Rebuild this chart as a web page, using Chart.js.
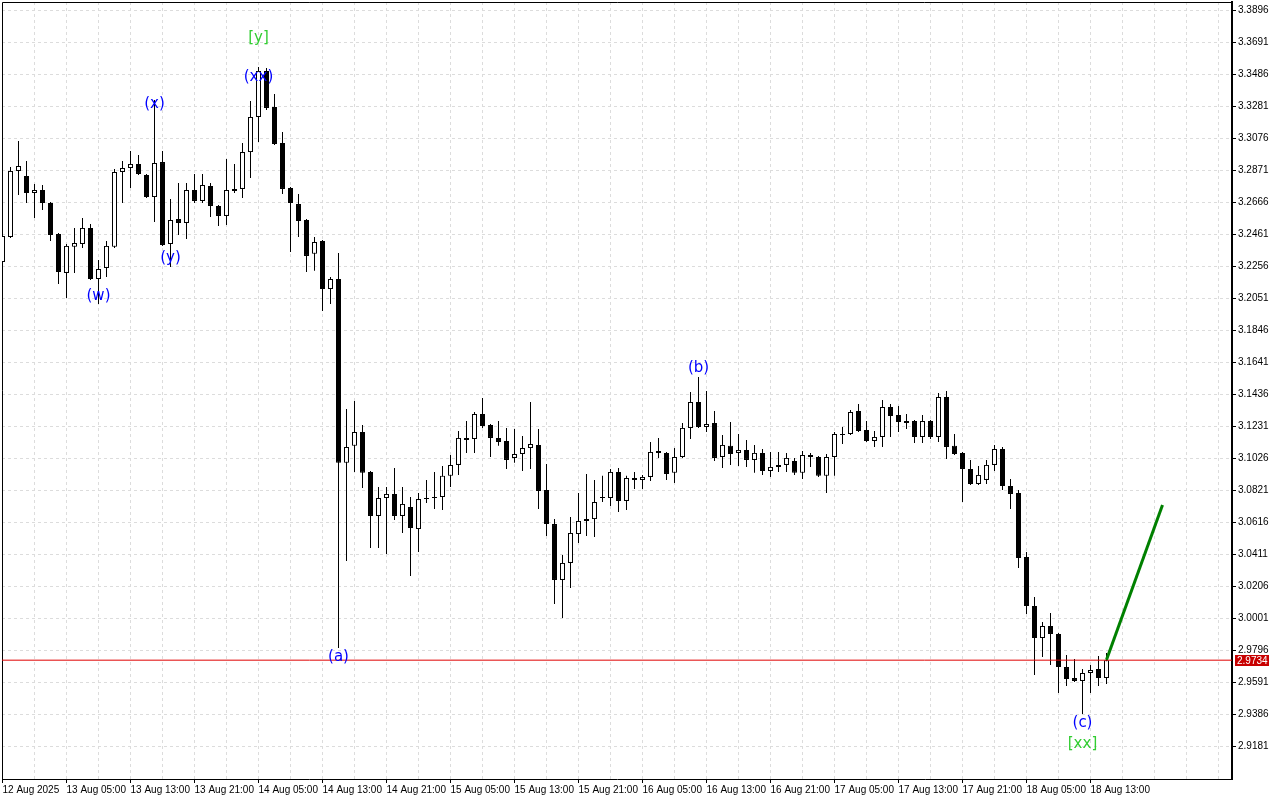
<!DOCTYPE html>
<html>
<head>
<meta charset="utf-8">
<title>H1 candles</title>
<script src="https://cdn.jsdelivr.net/npm/chart.js@4.4.1/dist/chart.umd.min.js"></script>
<style>
  html, body { margin: 0; padding: 0; background: #fff; }
</style>
</head>
<body>
<canvas id="chart" width="1280" height="800"></canvas>
<script>
// one label every 8 hourly bars, bar 0 = 12 Aug 21:00
const xLabels = ["12 Aug 2025", "13 Aug 05:00", "13 Aug 13:00", "13 Aug 21:00", "14 Aug 05:00",
  "14 Aug 13:00", "14 Aug 21:00", "15 Aug 05:00", "15 Aug 13:00", "15 Aug 21:00", "16 Aug 05:00",
  "16 Aug 13:00", "16 Aug 21:00", "17 Aug 05:00", "17 Aug 13:00", "17 Aug 21:00", "18 Aug 05:00",
  "18 Aug 13:00"];

const yTicks = [3.3896, 3.3691, 3.3486, 3.3281, 3.3076, 3.2871, 3.2666, 3.2461, 3.2256, 3.2051,
  3.1846, 3.1641, 3.1436, 3.1231, 3.1026, 3.0821, 3.0616, 3.0411, 3.0206, 3.0001, 2.9796, 2.9591,
  2.9386, 2.9181];

const open = [3.2285, 3.2445, 3.2868, 3.2836, 3.2727, 3.2746, 3.2663, 3.2464, 3.2215, 3.2382,
  3.2400, 3.2503, 3.2176, 3.2247, 3.2382, 3.2862, 3.2887, 3.2913, 3.2842, 3.2701,
  3.2925, 3.2400, 3.2560, 3.2535, 3.2746, 3.2676, 3.2772, 3.2644, 3.2580, 3.2740,
  3.2753, 3.2989, 3.3214, 3.3509, 3.3278, 3.3047, 3.2759, 3.2656, 3.2554, 3.2337,
  3.2420, 3.2112, 3.2176, 3.0998, 3.1107, 3.1196, 3.0940, 3.0658, 3.0773, 3.0799,
  3.0658, 3.0715, 3.0574, 3.0766, 3.0773, 3.0779, 3.0915, 3.0985, 3.1145, 3.1151,
  3.1311, 3.1241, 3.1158, 3.1138, 3.1030, 3.1055, 3.1093, 3.1113, 3.0824, 3.0606,
  3.0248, 3.0357, 3.0542, 3.0626, 3.0638, 3.0773, 3.0773, 3.0940, 3.0754, 3.0901,
  3.0889, 3.0908, 3.1074, 3.1062, 3.0934, 3.1036, 3.1222, 3.1388, 3.1228, 3.1254,
  3.1036, 3.1107, 3.1062, 3.1081, 3.1017, 3.1062, 3.0946, 3.0972, 3.0985, 3.1010,
  3.0934, 3.1049, 3.1036, 3.0915, 3.1036, 3.1177, 3.1183, 3.1330, 3.1209, 3.1138,
  3.1164, 3.1356, 3.1305, 3.1254, 3.1266, 3.1164, 3.1266, 3.1164, 3.1420, 3.1107,
  3.1062, 3.0959, 3.0863, 3.0889, 3.0985, 3.1087, 3.0850, 3.0805, 3.0395, 3.0081,
  2.9876, 2.9953, 2.9902, 2.9690, 2.9620, 2.9601, 2.9652, 2.9678, 2.9620];

const high = [3.2490, 3.2893, 3.3060, 3.2932, 3.2784, 3.2778, 3.2669, 3.2471, 3.2400, 3.2503,
  3.2567, 3.2528, 3.2298, 3.2420, 3.2881, 3.2932, 3.2996, 3.2970, 3.2849, 3.3323,
  3.2996, 3.2688, 3.2791, 3.2791, 3.2849, 3.2849, 3.2791, 3.2650, 3.2944, 3.2913,
  3.3047, 3.3316, 3.3534, 3.3528, 3.3361, 3.3118, 3.2765, 3.2720, 3.2560, 3.2445,
  3.2426, 3.2189, 3.2343, 3.1343, 3.1394, 3.1241, 3.0946, 3.0844, 3.0844, 3.0965,
  3.0844, 3.0779, 3.0805, 3.0889, 3.0940, 3.0978, 3.1049, 3.1202, 3.1266, 3.1324,
  3.1413, 3.1247, 3.1266, 3.1222, 3.1215, 3.1170, 3.1388, 3.1215, 3.0991, 3.0638,
  3.0408, 3.0651, 3.0805, 3.0927, 3.0889, 3.0915, 3.0959, 3.0965, 3.0915, 3.0940,
  3.0921, 3.1132, 3.1158, 3.1068, 3.1093, 3.1254, 3.1452, 3.1548, 3.1459, 3.1330,
  3.1177, 3.1260, 3.1183, 3.1145, 3.1113, 3.1087, 3.1068, 3.1068, 3.1062, 3.1030,
  3.1074, 3.1062, 3.1042, 3.1055, 3.1196, 3.1228, 3.1337, 3.1375, 3.1266, 3.1202,
  3.1401, 3.1375, 3.1362, 3.1311, 3.1273, 3.1305, 3.1273, 3.1446, 3.1459, 3.1183,
  3.1068, 3.1017, 3.0978, 3.1017, 3.1113, 3.1100, 3.0895, 3.0824, 3.0427, 3.0139,
  2.9979, 3.0036, 2.9908, 2.9767, 2.9741, 2.9678, 2.9703, 2.9761, 2.9780];

const low = [3.2266, 3.2439, 3.2714, 3.2663, 3.2567, 3.2618, 3.2420, 3.2144, 3.2055, 3.2215,
  3.2375, 3.2170, 3.2016, 3.2189, 3.2375, 3.2663, 3.2759, 3.2842, 3.2695, 3.2541,
  3.2388, 3.2253, 3.2458, 3.2432, 3.2663, 3.2663, 3.2573, 3.2516, 3.2522, 3.2727,
  3.2695, 3.2823, 3.3054, 3.3259, 3.3034, 3.2720, 3.2349, 3.2445, 3.2221, 3.2228,
  3.1971, 3.2016, 2.9812, 3.0369, 3.0940, 3.0837, 3.0453, 3.0453, 3.0414, 3.0632,
  3.0549, 3.0274, 3.0427, 3.0741, 3.0703, 3.0696, 3.0844, 3.0921, 3.1062, 3.1062,
  3.1222, 3.1036, 3.1107, 3.0959, 3.0998, 3.0946, 3.0959, 3.0703, 3.0529, 3.0094,
  3.0005, 3.0197, 3.0485, 3.0529, 3.0523, 3.0747, 3.0722, 3.0683, 3.0696, 3.0831,
  3.0831, 3.0882, 3.1030, 3.0889, 3.0869, 3.1030, 3.1151, 3.1222, 3.1196, 3.1010,
  3.0965, 3.0985, 3.0978, 3.0972, 3.0934, 3.0921, 3.0908, 3.0940, 3.0940, 3.0921,
  3.0895, 3.0972, 3.0908, 3.0805, 3.0915, 3.1119, 3.1177, 3.1196, 3.1132, 3.1100,
  3.1100, 3.1164, 3.1196, 3.1215, 3.1126, 3.1126, 3.1151, 3.1132, 3.1023, 3.1049,
  3.0747, 3.0856, 3.0856, 3.0863, 3.0946, 3.0824, 3.0703, 3.0325, 3.0030, 2.9639,
  2.9754, 2.9703, 2.9524, 2.9569, 2.9594, 2.9389, 2.9524, 2.9569, 2.9582];

const close = [3.2452, 3.2868, 3.2900, 3.2727, 3.2746, 3.2663, 3.2458, 3.2221, 3.2388, 3.2407,
  3.2503, 3.2176, 3.2240, 3.2388, 3.2862, 3.2887, 3.2913, 3.2849, 3.2701, 3.2919,
  3.2394, 3.2554, 3.2535, 3.2746, 3.2676, 3.2778, 3.2644, 3.2580, 3.2746, 3.2753,
  3.2989, 3.3214, 3.3509, 3.3272, 3.3041, 3.2753, 3.2663, 3.2547, 3.2324, 3.2413,
  3.2112, 3.2176, 3.0998, 3.1100, 3.1196, 3.0934, 3.0658, 3.0773, 3.0799, 3.0658,
  3.0735, 3.0581, 3.0766, 3.0773, 3.0779, 3.0915, 3.0985, 3.1158, 3.1158, 3.1311,
  3.1234, 3.1158, 3.1132, 3.1017, 3.1055, 3.1093, 3.1119, 3.0818, 3.0606, 3.0248,
  3.0357, 3.0549, 3.0626, 3.0638, 3.0747, 3.0779, 3.0940, 3.0754, 3.0901, 3.0889,
  3.0908, 3.1068, 3.1062, 3.0927, 3.1036, 3.1222, 3.1388, 3.1228, 3.1247, 3.1030,
  3.1113, 3.1055, 3.1081, 3.1017, 3.1062, 3.0946, 3.0972, 3.0985, 3.1030, 3.0934,
  3.1049, 3.1036, 3.0915, 3.1036, 3.1183, 3.1183, 3.1324, 3.1202, 3.1138, 3.1164,
  3.1356, 3.1298, 3.1260, 3.1266, 3.1164, 3.1266, 3.1164, 3.1420, 3.1100, 3.1055,
  3.0959, 3.0863, 3.0921, 3.0985, 3.1087, 3.0850, 3.0799, 3.0388, 3.0081, 2.9876,
  2.9953, 2.9902, 2.9690, 2.9613, 2.9601, 2.9652, 2.9671, 2.9620, 2.9734];

const currentPrice = 2.9734;

// projected move
const forecastIdx = [138, 145];
const forecastPrice = [2.9737, 3.0728];

// wave marks
const waveText = ["(w)", "(x)", "(y)", "(xx)", "[y]", "(a)", "(b)", "(c)", "[xx]"];
const waveIdx = [12, 19, 21, 32, 32, 42, 87, 135, 135];
const wavePrice = [3.2068, 3.3297, 3.2311, 3.3470, 3.3720, 2.9754, 3.1606, 2.9332, 2.9198];

// visible range
const X_MIN = -0.0625, X_MAX = 153.6875;
const Y_MIN = 2.89728, Y_MAX = 3.395045;

const FONT = "Liberation Sans";

const bodies = open.map((o, i) => ({ x: i, y: [o, close[i]] }));
const wicks = low.map((l, i) => ({ x: i, y: [l, high[i]] }));

const framePlugin = {
  id: "frame",
  beforeDatasetsDraw(chart) {
    const { ctx, chartArea: a } = chart;
    ctx.save();
    ctx.strokeStyle = "#000";
    ctx.lineWidth = 1;
    ctx.beginPath();
    ctx.moveTo(a.left + 0.5, a.bottom);
    ctx.lineTo(a.left + 0.5, a.top + 0.5);
    ctx.lineTo(a.right, a.top + 0.5);
    ctx.stroke();
    ctx.restore();
  },
};

const wavePlugin = {
  id: "waves",
  afterDatasetsDraw(chart) {
    const { ctx } = chart;
    const xs = chart.scales.x, ys = chart.scales.y;
    ctx.save();
    ctx.font = "15px 'DejaVu Sans'";
    ctx.textAlign = "center";
    ctx.textBaseline = "middle";
    waveText.forEach((t, i) => {
      ctx.fillStyle = t.startsWith("[") ? "#32cd32" : "#0000ff";
      ctx.fillText(t, xs.getPixelForValue(waveIdx[i]), ys.getPixelForValue(wavePrice[i]));
    });
    ctx.restore();
  },
};

const priceTagPlugin = {
  id: "priceTag",
  afterDraw(chart) {
    const { ctx } = chart;
    const ys = chart.scales.y;
    const y = Math.round(ys.getPixelForValue(currentPrice));
    ctx.save();
    ctx.fillStyle = "#c80000";
    ctx.fillRect(ys.left + 3, y - 5, 34, 11);
    ctx.fillStyle = "#fff";
    ctx.font = "10px '" + FONT + "'";
    ctx.textBaseline = "middle";
    ctx.fillText(currentPrice.toFixed(4), ys.left + 5, y + 1);
    ctx.restore();
  },
};

new Chart(document.getElementById("chart"), {
  type: "bar",
  data: {
    datasets: [
      {
        type: "line",
        label: "forecast",
        data: forecastIdx.map((x, i) => ({ x, y: forecastPrice[i] })),
        borderColor: "#008000",
        borderWidth: 3,
        pointRadius: 0,
        order: 0,
      },
      {
        type: "line",
        label: "price",
        data: [{ x: X_MIN, y: currentPrice }, { x: X_MAX, y: currentPrice }],
        borderColor: "#e00000",
        borderWidth: 1,
        pointRadius: 0,
        order: 1,
      },
      {
        label: "body",
        data: bodies,
        backgroundColor: (c) => (close[c.dataIndex] >= open[c.dataIndex] ? "#fff" : "#000"),
        borderColor: "#000",
        borderWidth: 1,
        borderSkipped: false,
        barThickness: 5,
        grouped: false,
        inflateAmount: 0,
        order: 2,
      },
      {
        label: "wick",
        data: wicks,
        backgroundColor: "#000",
        borderWidth: 0,
        barThickness: 1,
        grouped: false,
        inflateAmount: 0,
        order: 3,
      },
    ],
  },
  options: {
    responsive: false,
    animation: false,
    events: [],
    layout: { padding: { left: 2, top: 2, right: 0, bottom: 0 }, autoPadding: false },
    plugins: { legend: { display: false }, tooltip: { enabled: false } },
    scales: {
      x: {
        type: "linear",
        min: X_MIN,
        max: X_MAX,
        offset: false,
        afterBuildTicks: (s) => {
          s.ticks = [];
          for (let k = 0; k <= X_MAX; k += 4) s.ticks.push({ value: k });
        },
        afterFit: (s) => {
          s.height = 21;
          s.paddingLeft = 0;
          s.paddingRight = 0;
        },
        grid: {
          offset: false,
          color: "#dcdcdc",
          lineWidth: 1,
          tickLength: 4,
          tickWidth: 1,
          tickColor: (c) => (c.tick && c.tick.value % 8 === 0 && xLabels[c.tick.value / 8] ? "#000" : "rgba(0,0,0,0)"),
        },
        border: { color: "#000", width: 1, dash: [3, 3] },
        ticks: {
          autoSkip: false,
          maxRotation: 0,
          minRotation: 0,
          align: "start",
          padding: 1,
          color: "#000",
          font: { family: FONT, size: 10 },
          callback: (v) => (v % 8 === 0 && xLabels[v / 8]) || "",
        },
      },
      y: {
        type: "linear",
        position: "right",
        min: Y_MIN,
        max: Y_MAX,
        beginAtZero: false,
        afterBuildTicks: (s) => { s.ticks = yTicks.map((v) => ({ value: v })); },
        afterFit: (s) => {
          s.width = 48;
          s.paddingTop = 0;
          s.paddingBottom = 0;
        },
        grid: { color: "#dcdcdc", lineWidth: 1, tickLength: 4, tickWidth: 1, tickColor: "#000" },
        border: { color: "#000", width: 2, dash: [3, 3] },
        ticks: {
          padding: 2,
          color: "#000",
          font: { family: FONT, size: 10 },
          callback: (v) => v.toFixed(4),
        },
      },
    },
  },
  plugins: [framePlugin, wavePlugin, priceTagPlugin],
});
</script>
</body>
</html>
